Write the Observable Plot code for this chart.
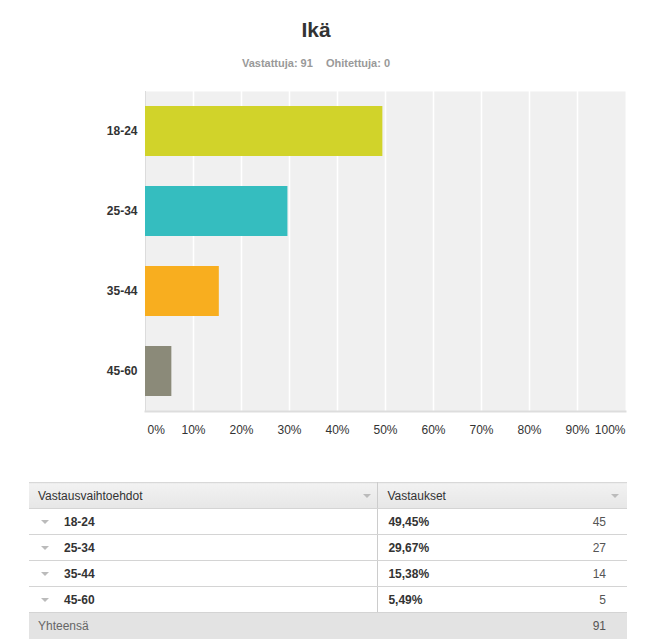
<!DOCTYPE html>
<html>
<head>
<meta charset="utf-8">
<script src="https://cdn.jsdelivr.net/npm/d3@7"></script>
<script src="https://cdn.jsdelivr.net/npm/@observablehq/plot@0.6"></script>
<style>
  body { margin: 0; background: #fff; font-family: "Liberation Sans", Arial, Helvetica, sans-serif; }
  #wrap { position: relative; width: 654px; height: 639px; overflow: hidden; }
  #title { position: absolute; top: 18px; left: 0; width: 632px; text-align: center; font-size: 21px; font-weight: bold; color: #333; }
  #subtitle { position: absolute; top: 57px; left: 0; width: 632px; text-align: center; font-size: 11px; font-weight: bold; color: #999; }
  #subtitle span { margin: 0 5px; }
  #chart { position: absolute; top: 80px; left: 0; }
  #tbl { position: absolute; top: 482px; left: 29px; width: 598px; border-collapse: collapse; font-size: 12px; color: #333; }
  #tbl td { height: 25px; padding: 0; border-bottom: 1px solid #d4d4d4; position: relative; }
  #tbl tr.head td { background: linear-gradient(#f2f2f2, #e6e6e6); border-top: 1px solid #d8d8d8; height: 25px; }
  #tbl tr.total td { background: #e3e3e3; color: #666; border-bottom: none; height: 26px; }
  .c1 { width: 349px; border-right: 1px solid #ccc; }
  .c2 { width: 249px; }
  .tri { display: inline-block; width: 0; height: 0; border-left: 4px solid transparent; border-right: 4px solid transparent; border-top: 4px solid #bbb; position: absolute; top: 11px; }
  .lbl { position: absolute; left: 35px; top: 6px; font-weight: bold; }
  .htxt { position: absolute; left: 9px; top: 6px; }
  .pct { position: absolute; left: 10px; top: 6px; font-weight: bold; }
  .cnt { position: absolute; right: 21px; top: 6px; color: #555; }
</style>
</head>
<body>
<div id="wrap">
  <div id="title">Ikä</div>
  <div id="subtitle"><span>Vastattuja: 91</span> <span>Ohitettuja: 0</span></div>
  <div id="chart"></div>
  <table id="tbl"></table>
</div>
<script>
const categories = ["18-24", "25-34", "35-44", "45-60"];
const percents = [49.45, 29.67, 15.38, 5.49];
const counts = [45, 27, 14, 5];
const colors = ["#d1d32a", "#35bdbf", "#f8ae1f", "#8b8a79"];
const tickValues = [0, 10, 20, 30, 40, 50, 60, 70, 80, 90, 100];
const totalCount = 91;
const headers = ["Vastausvaihtoehdot", "Vastaukset", "Yhteensä"];

const data = categories.map((c, i) => ({ cat: c, pct: percents[i], n: counts[i], color: colors[i] }));

const fmt = v => v + "%";
const chart = Plot.plot({
  width: 654,
  height: 375,
  marginTop: 11,
  marginBottom: 44,
  marginLeft: 145,
  marginRight: 29,
  style: { fontFamily: "'Liberation Sans', Arial, sans-serif", fontSize: "12px", color: "#333", background: "transparent" },
  x: { domain: [0, 100] },
  y: { domain: categories, paddingInner: 0.375, paddingOuter: 0.1875 },
  marks: [
    Plot.frame({ fill: "#f0f0f0", stroke: null }),
    Plot.ruleX(tickValues.filter(v => v > 0 && v < 100), { stroke: "#ffffff", strokeWidth: 1.5 }),
    Plot.ruleX([0], { stroke: "#dcdcdc", strokeWidth: 1 }),
    Plot.frame({ anchor: "bottom", stroke: "#dddddd", strokeWidth: 2 }),
    Plot.barX(data, { x: "pct", y: "cat", fill: "color" }),
    Plot.axisY({ tickSize: 0, tickPadding: 8, fontWeight: "bold", fill: "#333", fontSize: 12, label: null }),
    Plot.axisX(tickValues.filter(v => v > 0 && v < 100), { tickSize: 0, tickPadding: 14, tickFormat: fmt, fill: "#333", label: null }),
    Plot.axisX([0], { tickSize: 0, tickPadding: 14, tickFormat: fmt, textAnchor: "start", dx: 2, fill: "#333", label: null }),
    Plot.axisX([100], { tickSize: 0, tickPadding: 14, tickFormat: fmt, textAnchor: "end", fill: "#333", label: null })
  ]
});
document.getElementById("chart").appendChild(chart);

// table
const tbl = document.getElementById("tbl");
let html = `<tr class="head"><td class="c1"><span class="htxt">${headers[0]}</span><span class="tri" style="left:334px"></span></td>` +
           `<td class="c2"><span class="htxt">${headers[1]}</span><span class="tri" style="left:233px"></span></td></tr>`;
data.forEach(d => {
  html += `<tr><td class="c1"><span class="tri" style="left:12px"></span><span class="lbl">${d.cat}</span></td>` +
          `<td class="c2"><span class="pct">${d.pct.toFixed(2).replace(".", ",")}%</span><span class="cnt">${d.n}</span></td></tr>`;
});
html += `<tr class="total"><td class="c1" style="border-right:none"><span class="htxt">${headers[2]}</span></td>` +
        `<td class="c2"><span class="cnt">${totalCount}</span></td></tr>`;
tbl.innerHTML = html;
</script>
</body>
</html>
